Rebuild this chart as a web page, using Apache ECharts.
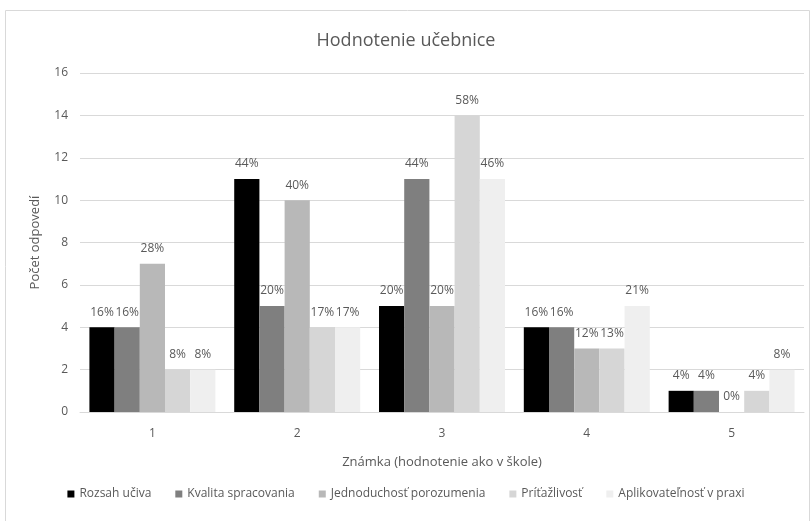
<!DOCTYPE html>
<html>
<head>
<meta charset="utf-8">
<script src="https://cdn.jsdelivr.net/npm/echarts@6/dist/echarts.min.js"></script>
<style>
  html, body { margin: 0; padding: 0; background: #fff; }
  #chart { width: 812px; height: 521px; }
</style>
</head>
<body>
<div id="chart"></div>
<script>
const categories = ['1', '2', '3', '4', '5']
const seriesNames = ['Rozsah učiva', 'Kvalita spracovania', 'Jednoduchosť porozumenia', 'Príťažlivosť', 'Aplikovateľnosť v praxi']

const rozsah = [4, 11, 5, 4, 1]
const kvalita = [4, 5, 11, 4, 1]
const jednoduchost = [7, 10, 5, 3, 0]
const pritazlivost = [2, 4, 14, 3, 1]
const aplikovatelnost = [2, 4, 11, 5, 2]

const rozsahPct = ['16%', '44%', '20%', '16%', '4%']
const kvalitaPct = ['16%', '20%', '44%', '16%', '4%']
const jednoduchostPct = ['28%', '40%', '20%', '12%', '0%']
const pritazlivostPct = ['8%', '17%', '58%', '13%', '4%']
const aplikovatelnostPct = ['8%', '17%', '46%', '21%', '8%']

const values = [rozsah, kvalita, jednoduchost, pritazlivost, aplikovatelnost]
const pcts = [rozsahPct, kvalitaPct, jednoduchostPct, pritazlivostPct, aplikovatelnostPct]
const colors = ['#000000', '#7f7f7f', '#b8b8b8', '#d6d6d6', '#efefef']

const font = '"Open Sans", sans-serif'
const textColor = '#595959'

const chart = echarts.init(document.getElementById('chart'))
chart.setOption({
    animation: false,
    textStyle: { fontFamily: font },
    title: {
        text: 'Hodnotenie učebnice',
        left: 'center',
        top: 27,
        textStyle: { fontSize: 18, fontWeight: 'normal', color: textColor, fontFamily: font }
    },
    graphic: [{
        type: 'rect',
        shape: { x: 5.5, y: 10.5, width: 804, height: 520 },
        style: { fill: 'none', stroke: '#d9d9d9', lineWidth: 1 },
        silent: true
    }],
    legend: {
        bottom: 16,
        left: 'center',
        itemWidth: 7,
        itemHeight: 7,
        itemGap: 24,
        icon: 'rect',
        textStyle: { fontSize: 12, color: textColor, fontFamily: font },
        data: seriesNames
    },
    grid: { left: 80, right: 8, top: 73, bottom: 109 },
    xAxis: {
        type: 'category',
        data: categories,
        name: 'Známka (hodnotenie ako v škole)',
        nameLocation: 'middle',
        nameGap: 44,
        nameTextStyle: { fontSize: 13, color: textColor },
        axisLine: { lineStyle: { color: '#d9d9d9' } },
        axisTick: { show: false },
        axisLabel: { fontSize: 12, color: textColor, margin: 16 }
    },
    yAxis: {
        type: 'value',
        min: 0,
        max: 16,
        interval: 2,
        name: 'Počet odpovedí',
        nameLocation: 'middle',
        nameGap: 38,
        nameTextStyle: { fontSize: 13, color: textColor },
        axisLine: { show: false },
        axisTick: { show: false },
        axisLabel: { fontSize: 12, color: textColor, margin: 12 },
        splitLine: { lineStyle: { color: '#d9d9d9' } }
    },
    series: seriesNames.map((name, i) => ({
        name: name,
        type: 'bar',
        data: values[i],
        barGap: '0%',
        barCategoryGap: '13%',
        itemStyle: { color: colors[i] },
        label: {
            show: true,
            position: 'top',
            distance: 9,
            fontSize: 12,
            color: textColor,
            formatter: (p) => pcts[i][p.dataIndex]
        }
    }))
})
</script>
</body>
</html>
